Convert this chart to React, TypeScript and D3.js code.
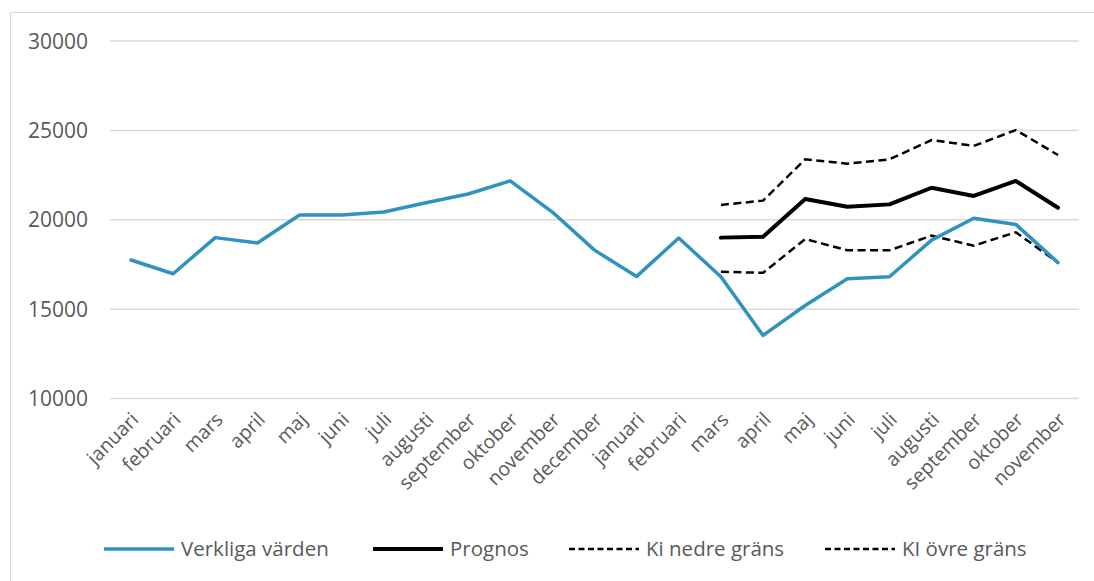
import React from "react";
import * as d3 from "d3";

const months = [
  "januari", "februari", "mars", "april", "maj", "juni", "juli", "augusti",
  "september", "oktober", "november", "december",
  "januari", "februari", "mars", "april", "maj", "juni", "juli", "augusti",
  "september", "oktober", "november",
];

const actual = [
  17750, 16980, 19000, 18700, 20270, 20270, 20430, 20950, 21440, 22170, 20430, 18300,
  16830, 18980, 16810, 13530, 15200, 16700, 16810, 18860, 20080, 19740, 17600,
];

// forecast starts at the second "mars"
const forecastStart = 14;
const forecast = [19000, 19050, 21160, 20730, 20860, 21790, 21330, 22170, 20670];
const lower = [17090, 17030, 18920, 18290, 18290, 19110, 18550, 19300, 17600];
const upper = [20830, 21070, 23380, 23140, 23380, 24460, 24130, 25020, 23620];

const yTicks = [10000, 15000, 20000, 25000, 30000];

const width = 1094;
const height = 581;
const blue = "#2f93be";
const textColor = "#595959";
const gridColor = "#d9d9d9";
const font = "'Open Sans', 'DejaVu Sans', sans-serif";

export default function App() {
  const x = d3
    .scalePoint<number>()
    .domain(d3.range(months.length))
    .range([131, 1058]);
  const y = d3.scaleLinear().domain([10000, 30000]).range([398.5, 41]);

  const line = d3
    .line<[number, number]>()
    .x((d) => x(d[0]) as number)
    .y((d) => y(d[1]));

  const toPts = (vals: number[], offset = 0): [number, number][] =>
    vals.map((v, i) => [i + offset, v]);

  const legend = [
    { label: "Verkliga värden", color: blue, w: 3.5, dash: null, x: 104 },
    { label: "Prognos", color: "#000", w: 4, dash: null, x: 373 },
    { label: "Ki nedre gräns", color: "#000", w: 2.5, dash: "6,3.5", x: 569 },
    { label: "KI övre gräns", color: "#000", w: 2.5, dash: "6,3.5", x: 825 },
  ];

  return (
    <svg
      width={width}
      height={height}
      style={{ position: "absolute", left: 0, top: 0, background: "#fff" }}
      fontFamily={font}
    >
      <rect x={10.5} y={12.5} width={1200} height={700} fill="#fff" stroke={gridColor} />

      {yTicks.map((t) => (
        <g key={t}>
          <line x1={110} x2={1079} y1={y(t)} y2={y(t)} stroke={gridColor} strokeWidth={1.5} />
          <text
            x={88}
            y={y(t)}
            dy="0.36em"
            textAnchor="end"
            fontSize={21}
            fill={textColor}
          >
            {t}
          </text>
        </g>
      ))}

      {months.map((m, i) => (
        <text
          key={i}
          transform={`translate(${(x(i) as number) + 4},${416}) rotate(-45)`}
          textAnchor="end"
          dy="0.35em"
          fontSize={19.5}
          fill={textColor}
        >
          {m}
        </text>
      ))}

      <path
        d={line(toPts(upper, forecastStart)) ?? ""}
        fill="none"
        stroke="#000"
        strokeWidth={2.5}
        strokeDasharray="8,4.5"
      />
      <path
        d={line(toPts(lower, forecastStart)) ?? ""}
        fill="none"
        stroke="#000"
        strokeWidth={2.5}
        strokeDasharray="8,4.5"
      />
      <path
        d={line(toPts(forecast, forecastStart)) ?? ""}
        fill="none"
        stroke="#000"
        strokeWidth={4}
        strokeLinejoin="round"
        strokeLinecap="round"
      />
      <path
        d={line(toPts(actual)) ?? ""}
        fill="none"
        stroke={blue}
        strokeWidth={3.5}
        strokeLinejoin="round"
        strokeLinecap="round"
      />

      {legend.map((l) => (
        <g key={l.label} transform={`translate(${l.x},549)`}>
          <line
            x1={0}
            x2={70}
            y1={0}
            y2={0}
            stroke={l.color}
            strokeWidth={l.w}
            strokeDasharray={l.dash ?? undefined}
          />
          <text x={77} dy="0.35em" fontSize={20.5} fill={textColor}>
            {l.label}
          </text>
        </g>
      ))}
    </svg>
  );
}
